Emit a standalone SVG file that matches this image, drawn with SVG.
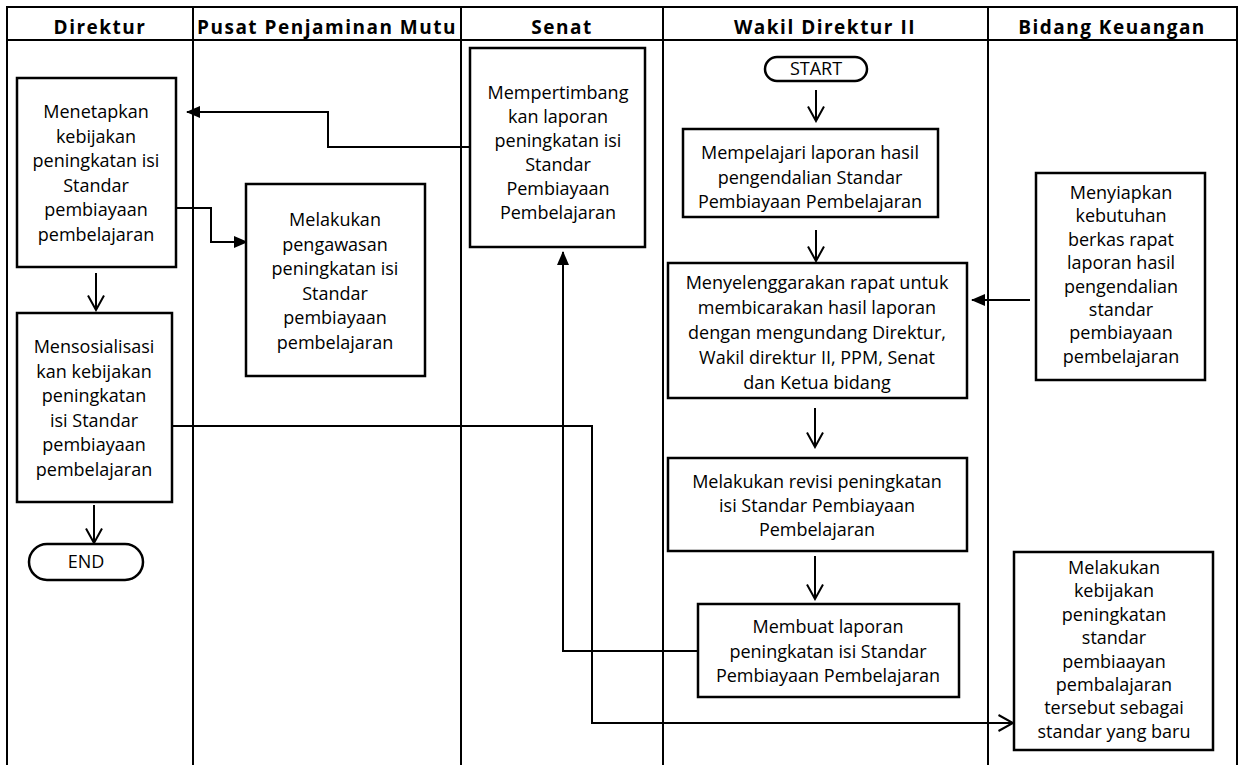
<svg xmlns="http://www.w3.org/2000/svg" width="1243" height="765" viewBox="0 0 1243 765">
<style>
.frame{fill:none;stroke:#000;stroke-width:2}
.box{fill:#fff;stroke:#000;stroke-width:2.5}
.hd{font-family:"Open Sans","Liberation Sans",sans-serif;font-weight:bold;font-size:19px;letter-spacing:1.5px;text-anchor:middle;fill:#000}
.t{font-family:"Open Sans","Liberation Sans",sans-serif;font-size:18px;text-anchor:middle;fill:#000}
.c{fill:none;stroke:#000;stroke-width:2}
</style>
<defs>
<marker id="af" viewBox="0 0 14 12" refX="13" refY="6" markerWidth="14" markerHeight="12" orient="auto" markerUnits="userSpaceOnUse"><path d="M0,0 L14,6 L0,12 z" fill="#000"/></marker>
<marker id="ao" viewBox="0 0 17 18" refX="15.5" refY="9" markerWidth="17" markerHeight="18" orient="auto" markerUnits="userSpaceOnUse"><path d="M1,1 L15.5,9 L1,17" fill="none" stroke="#000" stroke-width="2"/></marker>
</defs>
<rect width="1243" height="765" fill="#fff"/>
<g id="lanes">
<path class="frame" d="M7,765 V7 H1237 V765 M7,40 H1237 M193,7 V765 M461,7 V765 M663,7 V765 M988,7 V765"/>
<text class="hd" x="100" y="34">Direktur</text>
<text class="hd" x="327" y="34">Pusat Penjaminan Mutu</text>
<text class="hd" x="562" y="34">Senat</text>
<text class="hd" x="825" y="34">Wakil Direktur II</text>
<text class="hd" x="1112" y="34">Bidang Keuangan</text>
</g>
<g id="connectors">
<path class="c" d="M470,147 H328 V112 H187" marker-end="url(#af)"/>
<path class="c" d="M176,208 H211 V242 H247" marker-end="url(#af)"/>
<path class="c" d="M96,273 V310" marker-end="url(#ao)"/>
<path class="c" d="M94,505 V543" marker-end="url(#ao)"/>
<path class="c" d="M172,426 H592 V723 H1013" marker-end="url(#ao)"/>
<path class="c" d="M816,90 V121" marker-end="url(#ao)"/>
<path class="c" d="M816,230 V261" marker-end="url(#ao)"/>
<path class="c" d="M1030,300 H972" marker-end="url(#af)"/>
<path class="c" d="M815,408 V447" marker-end="url(#ao)"/>
<path class="c" d="M815,556 V599" marker-end="url(#ao)"/>
<path class="c" d="M698,651 H563 V252" marker-end="url(#af)"/>
</g>
<g id="n-menetapkan">
<rect class="box" x="17" y="78" width="159" height="189"/>
<text class="t"><tspan x="96" y="118">Menetapkan</tspan><tspan x="96" y="142.5">kebijakan</tspan><tspan x="96" y="167">peningkatan isi</tspan><tspan x="96" y="191.5">Standar</tspan><tspan x="96" y="216">pembiayaan</tspan><tspan x="96" y="240.5">pembelajaran</tspan></text>
</g>
<g id="n-pengawasan">
<rect class="box" x="246" y="184" width="179" height="192"/>
<text class="t"><tspan x="335" y="226">Melakukan</tspan><tspan x="335" y="250.5">pengawasan</tspan><tspan x="335" y="275">peningkatan isi</tspan><tspan x="335" y="299.5">Standar</tspan><tspan x="335" y="324">pembiayaan</tspan><tspan x="335" y="348.5">pembelajaran</tspan></text>
</g>
<g id="n-mensosialisasi">
<rect class="box" x="17" y="313" width="155" height="189"/>
<text class="t"><tspan x="94" y="353">Mensosialisasi</tspan><tspan x="94" y="377.5">kan kebijakan</tspan><tspan x="94" y="402">peningkatan</tspan><tspan x="94" y="426.5">isi Standar</tspan><tspan x="94" y="451">pembiayaan</tspan><tspan x="94" y="475.5">pembelajaran</tspan></text>
</g>
<g id="n-end">
<rect class="box" x="29" y="544" width="114" height="36" rx="18"/>
<text class="t" x="86" y="568">END</text>
</g>
<g id="n-senat">
<rect class="box" x="470" y="48" width="175" height="199"/>
<text class="t"><tspan x="558" y="99">Mempertimbang</tspan><tspan x="558" y="123">kan laporan</tspan><tspan x="558" y="147">peningkatan isi</tspan><tspan x="558" y="171">Standar</tspan><tspan x="558" y="195">Pembiayaan</tspan><tspan x="558" y="219">Pembelajaran</tspan></text>
</g>
<g id="n-start">
<rect class="box" x="765" y="57" width="102" height="24" rx="12"/>
<text class="t" x="816" y="75">START</text>
</g>
<g id="n-mempelajari">
<rect class="box" x="683" y="129" width="255" height="88"/>
<text class="t"><tspan x="810" y="159">Mempelajari laporan hasil</tspan><tspan x="810" y="183.5">pengendalian Standar</tspan><tspan x="810" y="208">Pembiayaan Pembelajaran</tspan></text>
</g>
<g id="n-rapat">
<rect class="box" x="668" y="263" width="299" height="135"/>
<text class="t"><tspan x="817" y="289">Menyelenggarakan rapat untuk</tspan><tspan x="817" y="314">membicarakan hasil laporan</tspan><tspan x="817" y="339">dengan mengundang Direktur,</tspan><tspan x="817" y="364">Wakil direktur II, PPM, Senat</tspan><tspan x="817" y="389">dan Ketua bidang</tspan></text>
</g>
<g id="n-menyiapkan">
<rect class="box" x="1036" y="173" width="169" height="207"/>
<text class="t"><tspan x="1121" y="199">Menyiapkan</tspan><tspan x="1121" y="222.4">kebutuhan</tspan><tspan x="1121" y="245.8">berkas rapat</tspan><tspan x="1121" y="269.2">laporan hasil</tspan><tspan x="1121" y="292.6">pengendalian</tspan><tspan x="1121" y="316">standar</tspan><tspan x="1121" y="339.4">pembiayaan</tspan><tspan x="1121" y="362.8">pembelajaran</tspan></text>
</g>
<g id="n-revisi">
<rect class="box" x="668" y="458" width="299" height="93"/>
<text class="t"><tspan x="817" y="488">Melakukan revisi peningkatan</tspan><tspan x="817" y="512">isi Standar Pembiayaan</tspan><tspan x="817" y="536">Pembelajaran</tspan></text>
</g>
<g id="n-membuat">
<rect class="box" x="698" y="604" width="261" height="93"/>
<text class="t"><tspan x="828" y="633">Membuat laporan</tspan><tspan x="828" y="657.5">peningkatan isi Standar</tspan><tspan x="828" y="682">Pembiayaan Pembelajaran</tspan></text>
</g>
<g id="n-standar-baru">
<rect class="box" x="1014" y="552" width="199" height="198"/>
<text class="t"><tspan x="1114" y="574">Melakukan</tspan><tspan x="1114" y="597.4">kebijakan</tspan><tspan x="1114" y="620.8">peningkatan</tspan><tspan x="1114" y="644.2">standar</tspan><tspan x="1114" y="667.6">pembiaayan</tspan><tspan x="1114" y="691">pembalajaran</tspan><tspan x="1114" y="714.4">tersebut sebagai</tspan><tspan x="1114" y="737.8">standar yang baru</tspan></text>
</g>
</svg>
